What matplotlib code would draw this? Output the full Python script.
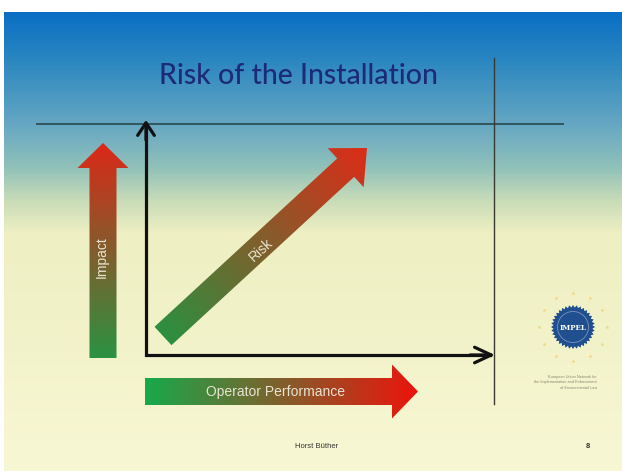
import numpy as np
import matplotlib
matplotlib.use('Agg')
import matplotlib.pyplot as plt
from matplotlib.patches import Polygon, Circle
from matplotlib.colors import LinearSegmentedColormap

# ---- content ----
title = "Risk of the Installation"
arrow_labels = ["Impact", "Risk", "Operator Performance"]
footer_author = "Horst Büther"
page_number = "8"
logo_text = "IMPEL"
logo_caption = ["European Union Network for",
                "the Implementation and Enforcement",
                "of Environmental Law"]

W, H = 622, 471
bg_stops = [(0.0, '#0a6fc4'), (0.10, '#2a86c0'), (0.24, '#64a6c3'),
            (0.34, '#92c2b9'), (0.41, '#c8dcb8'), (0.48, '#eeefc2'),
            (1.0, '#f8f7d4')]

fig = plt.figure(figsize=(6.22, 4.71), dpi=100)
fig.patch.set_facecolor('white')
ax = fig.add_axes([0, 0, 1, 1])
ax.axis('off')

# background gradient of slide
slide_top, slide_left = 12, 4
bg_cmap = LinearSegmentedColormap.from_list('bg', bg_stops)
grad = np.linspace(0, 1, 400)[:, None] * np.ones((1, 4))
ax.imshow(grad, cmap=bg_cmap, aspect='auto', extent=[slide_left, W, H, slide_top],
          interpolation='bilinear', zorder=0)

XS, YS = np.meshgrid(np.arange(W) + 0.5, np.arange(H) + 0.5)


def grad_arrow(tail, tip, shaft_w, head_w, head_len, c0, c1, z=3):
    tail = np.array(tail, float)
    tip = np.array(tip, float)
    d = tip - tail
    L = np.hypot(*d)
    u = d / L
    n = np.array([-u[1], u[0]])
    b = tip - u * head_len
    pts = [tail + n * shaft_w / 2, b + n * shaft_w / 2, b + n * head_w / 2, tip,
           b - n * head_w / 2, b - n * shaft_w / 2, tail - n * shaft_w / 2]
    poly = Polygon(pts, closed=True, facecolor='none', edgecolor='none')
    ax.add_patch(poly)
    t = ((XS - tail[0]) * u[0] + (YS - tail[1]) * u[1]) / L
    t = np.clip(t, 0, 1)
    cmap = LinearSegmentedColormap.from_list('a', [c0, c1])
    im = ax.imshow(t, cmap=cmap, vmin=0, vmax=1, extent=[0, W, H, 0],
                   zorder=z, interpolation='bilinear', aspect='auto')
    im.set_clip_path(poly)


# thin guide lines
ax.plot([37, 563], [124, 124], color='#2c4f55', lw=1.3, zorder=2)
ax.plot([494, 494], [58, 404], color='#3a3a30', lw=1.0, zorder=2)

# gradient arrows
grad_arrow((103, 358), (103, 143), 27, 51, 25, '#2a9242', '#dc2818')
grad_arrow((163, 336), (367, 148), 25, 53, 29, '#2a9040', '#dc2c18')
grad_arrow((145, 391.5), (418, 391.5), 27, 54, 26, '#17a94b', '#ec140c')

txt_col = '#e8e4d2'
ax.text(102, 257, arrow_labels[0], rotation=90, ha='center', va='center',
        color=txt_col, fontsize=10, family='Liberation Sans', zorder=5)
ang = np.degrees(np.arctan2(336 - 148, 367 - 163))
ax.text(261, 250, arrow_labels[1], rotation=ang, ha='center', va='center',
        color=txt_col, fontsize=10, family='Liberation Sans', zorder=5,
        rotation_mode='anchor')
ax.text(275, 392, arrow_labels[2], ha='center', va='center',
        color=txt_col, fontsize=10, family='Liberation Sans', zorder=5)

# black axes
ax.plot([146, 146, 490], [125, 355, 355], color='#111111', lw=2.3,
        solid_joinstyle='miter', zorder=4)
ax.annotate('', xy=(146, 120), xytext=(146, 140),
            arrowprops=dict(arrowstyle='->,head_length=0.45,head_width=0.3',
                            lw=2.3, color='#111111', shrinkA=0, shrinkB=0,
                            mutation_scale=20), zorder=4)
ax.annotate('', xy=(495, 355), xytext=(470, 355),
            arrowprops=dict(arrowstyle='->,head_length=0.6,head_width=0.28',
                            lw=2.3, color='#111111', shrinkA=0, shrinkB=0,
                            mutation_scale=20), zorder=4)

# title
ax.text(298, 76, title, ha='center', va='center', color='#1c2a78',
        fontsize=20.5, family='Lato', weight='medium', zorder=5)

# logo
cx, cy = 573, 327
nt = 36
ang_pts = np.linspace(0, 2 * np.pi, 2 * nt, endpoint=False)
rad = np.where(np.arange(2 * nt) % 2 == 0, 22, 19.5)
ax.add_patch(Polygon(np.c_[cx + rad * np.cos(ang_pts), cy + rad * np.sin(ang_pts)],
                     closed=True, facecolor='#1f4f8e', edgecolor='none', zorder=4))
ax.add_patch(Circle((cx, cy), 15.5, facecolor='none', edgecolor='#7d93c0',
                    lw=0.6, zorder=5))
ax.text(cx, cy + 0.5, logo_text, ha='center', va='center', color='white',
        fontsize=5, family='DejaVu Serif', weight='bold', zorder=6)
sa = np.linspace(0, 2 * np.pi, 12, endpoint=False)
ax.scatter(cx + 34 * np.cos(sa), cy + 34 * np.sin(sa), marker='*', s=10,
           color='#ecd06a', alpha=0.8, linewidths=0, zorder=4)
for i, line in enumerate(logo_caption):
    ax.text(597, 377 + 5.5 * i, line, ha='right', va='center', color='#8a8a72',
            fontsize=2.8, family='Liberation Sans', zorder=5)

# footer
ax.text(317, 447, footer_author, ha='center', va='center', color='#333333',
        fontsize=5.5, family='Liberation Sans', zorder=5)
ax.text(588, 447, page_number, ha='center', va='center', color='#333333',
        fontsize=5.5, family='Liberation Sans', weight='bold', zorder=5)

ax.set_xlim(0, W)
ax.set_ylim(H, 0)
fig.savefig('out.png', dpi=100, facecolor='white')
